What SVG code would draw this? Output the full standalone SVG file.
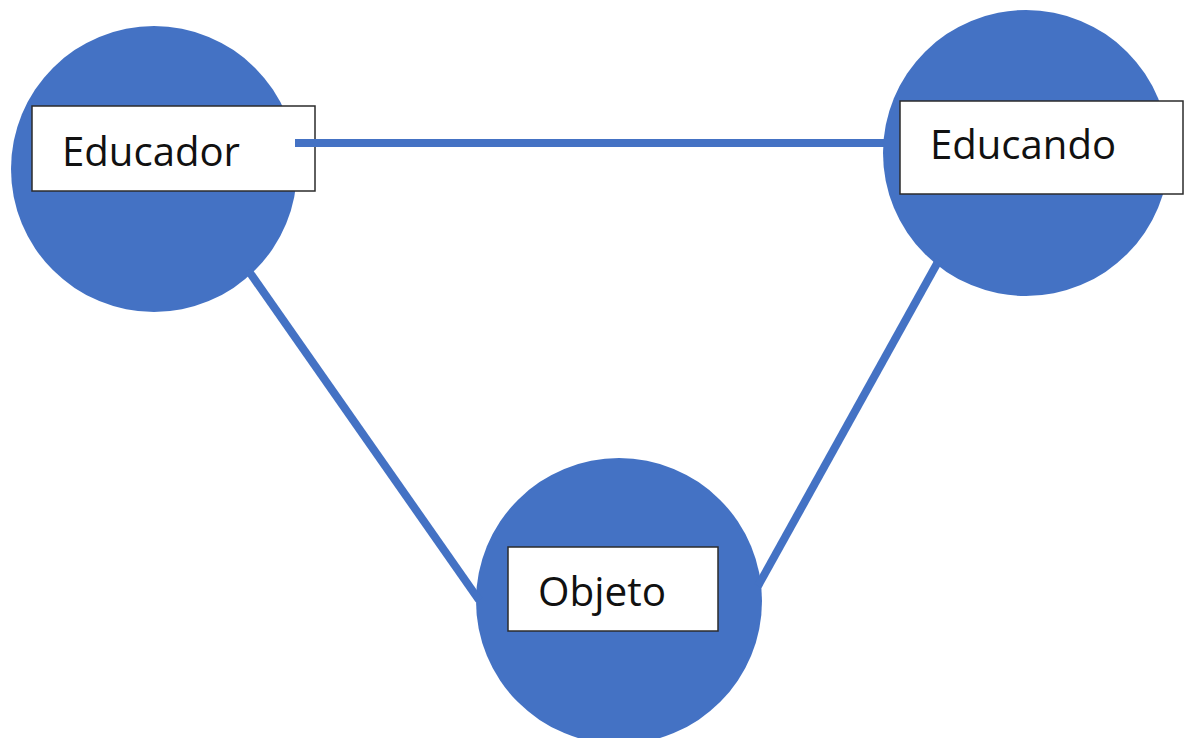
<svg xmlns="http://www.w3.org/2000/svg" width="1189" height="738" viewBox="0 0 1189 738">
<style>
.c{fill:#4472C4}
.b{fill:#fff;stroke:#2b2b2b;stroke-width:1.5}
.t{font-family:"Open Sans","Noto Sans",sans-serif;font-size:40px;fill:#111}
.l{stroke:#4472C4;stroke-width:8;fill:none}
</style>
<rect width="1189" height="738" fill="#fff"/>
<g id="educador">
<circle class="c" cx="154" cy="169" r="143"/>
<rect class="b" x="32" y="106" width="283" height="85"/>
<text class="t" x="62" y="166" textLength="178" lengthAdjust="spacingAndGlyphs">Educador</text>
</g>
<g id="educando">
<circle class="c" cx="1026" cy="153" r="143"/>
<rect class="b" x="900" y="101" width="283" height="93"/>
<text class="t" x="930" y="159" textLength="186" lengthAdjust="spacingAndGlyphs">Educando</text>
</g>
<g id="objeto">
<circle class="c" cx="619" cy="601" r="143"/>
<rect class="b" x="508" y="547" width="210" height="84"/>
<text class="t" x="538" y="606" textLength="128" lengthAdjust="spacingAndGlyphs">Objeto</text>
</g>
<g id="connectors">
<line class="l" x1="295" y1="143" x2="886" y2="143"/>
<line class="l" x1="248" y1="270" x2="479" y2="600"/>
<line class="l" x1="939" y1="260" x2="758" y2="586"/>
</g>
</svg>
